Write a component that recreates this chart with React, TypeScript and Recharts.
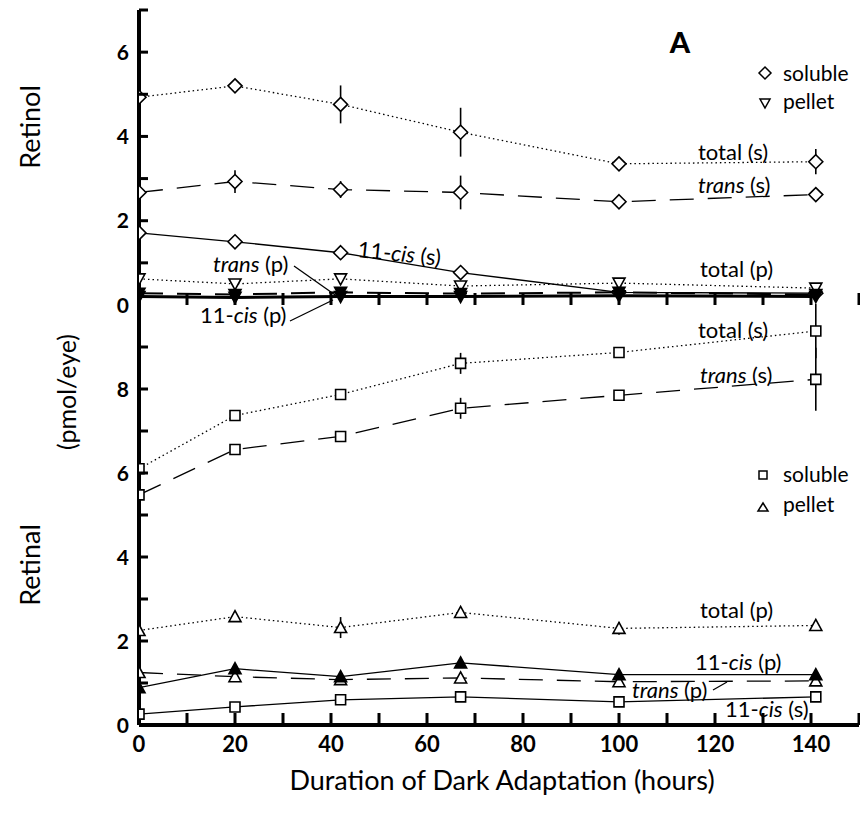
import React from 'react';
import { LineChart, Line, XAxis, YAxis, ErrorBar } from 'recharts';

// Hours of dark adaptation
const hours = [0, 20, 42, 67, 100, 141];

// Retinol (top panel), pmol/eye
const rolTotalS = [4.93, 5.2, 4.76, 4.1, 3.35, 3.4];
const rolTotalSErr = [0, 0.1, 0.45, 0.58, 0.06, 0.3];
const rolTransS = [2.67, 2.93, 2.74, 2.67, 2.45, 2.62];
const rolTransSErr = [0, 0.27, 0.2, 0.4, 0, 0];
const rolCisS = [1.71, 1.5, 1.24, 0.77, 0.3, 0.28];
const rolTotalP = [0.62, 0.5, 0.62, 0.45, 0.52, 0.4];
const rolTransP = [0.28, 0.25, 0.3, 0.27, 0.3, 0.25];
const rolCisP = [0.2, 0.18, 0.2, 0.2, 0.22, 0.2];

// Retinal (bottom panel), pmol/eye
const ralTotalS = [6.1, 7.37, 7.87, 8.61, 8.87, 9.38];
const ralTotalSErr = [0, 0, 0.1, 0.25, 0, 0.65];
const ralTransS = [5.48, 6.56, 6.87, 7.54, 7.85, 8.23];
const ralTransSErr = [0, 0, 0.1, 0.25, 0, 0.75];
const ralTotalP = [2.25, 2.58, 2.32, 2.68, 2.3, 2.37];
const ralTotalPErr = [0, 0, 0.25, 0, 0.15, 0];
const ralCisP = [0.89, 1.34, 1.15, 1.48, 1.2, 1.2];
const ralTransP = [1.25, 1.15, 1.08, 1.12, 1.03, 1.05];
const ralCisS = [0.26, 0.43, 0.6, 0.67, 0.55, 0.67];

const xTicks = [0, 10, 20, 30, 40, 50, 60, 70, 80, 90, 100, 110, 120, 130, 140, 150];
const xLabels = [0, 20, 40, 60, 80, 100, 120, 140];
const xTickMarks = [10, 20, 30, 40, 50, 60, 70, 80, 90, 100, 110, 120, 130, 140, 150];
const topYTicks = [0, 1, 2, 3, 4, 5, 6, 7];
const topYLabels = [0, 2, 4, 6];
const botYTicks = [0, 1, 2, 3, 4, 5, 6, 7, 8, 9, 10];
const botYLabels = [0, 2, 4, 6, 8];

// Layout geometry (pixels)
const W = 860;
const Y_AXIS_W = 139;
const RIGHT_M = 1;
const X_MAX = 150;
const TOP_M = 10;
const MID_Y = 305;
const BOT_Y = 725;
const TOTAL_H = 822;
const X_AXIS_H = 60;
const plotW = W - Y_AXIS_W - RIGHT_M;
const xPix = (v: number) => Y_AXIS_W + (v / X_MAX) * plotW;

const topData = hours.map((h, i) => ({
  h,
  totalS: rolTotalS[i], totalSErr: rolTotalSErr[i],
  transS: rolTransS[i], transSErr: rolTransSErr[i],
  cisS: rolCisS[i],
  totalP: rolTotalP[i],
  transP: rolTransP[i],
  cisP: rolCisP[i],
}));

const botData = hours.map((h, i) => ({
  h,
  totalS: ralTotalS[i], totalSErr: ralTotalSErr[i],
  transS: ralTransS[i], transSErr: ralTransSErr[i],
  totalP: ralTotalP[i], totalPErr: ralTotalPErr[i],
  cisP: ralCisP[i],
  transP: ralTransP[i],
  cisS: ralCisS[i],
}));

const FONT = 'Lato, "Open Sans", sans-serif';

type Shape = 'diamond' | 'down' | 'square' | 'up';

const shapePath = (shape: Shape, cx: number, cy: number) => {
  switch (shape) {
    case 'diamond':
      return `M${cx},${cy - 7} L${cx + 7},${cy} L${cx},${cy + 7} L${cx - 7},${cy} Z`;
    case 'down':
      return `M${cx - 6},${cy - 5} L${cx + 6},${cy - 5} L${cx},${cy + 6} Z`;
    case 'square':
      return `M${cx - 5},${cy - 5} L${cx + 5},${cy - 5} L${cx + 5},${cy + 5} L${cx - 5},${cy + 5} Z`;
    case 'up':
    default:
      return `M${cx},${cy - 6} L${cx + 6},${cy + 5} L${cx - 6},${cy + 5} Z`;
  }
};

const marker = (shape: Shape, filled: boolean) => (props: any) => {
  const { cx, cy, index } = props;
  if (cx == null || cy == null) return <g key={`m-${index}`} />;
  return (
    <path
      key={`m-${shape}-${index}`}
      d={shapePath(shape, cx, cy)}
      fill={filled ? '#000' : '#fff'}
      stroke="#000"
      strokeWidth={1.6}
    />
  );
};

const YTick = (labels: number[], skipLine: number[]) => (props: any) => {
  const { x, y, payload } = props;
  const v = payload.value;
  return (
    <g>
      {!skipLine.includes(v) && (
        <line x1={x} y1={y} x2={x + 9} y2={y} stroke="#000" strokeWidth={3} />
      )}
      {labels.includes(v) && (
        <text x={x - 10} y={y} dy="0.36em" textAnchor="end" fontFamily={FONT} fontWeight={700} fontSize={21} fill="#000">
          {v}
        </text>
      )}
    </g>
  );
};

const XLabel = (showLabels: boolean) => (props: any) => {
  const { x, y, payload } = props;
  const v = payload.value;
  if (!showLabels || !xLabels.includes(v)) return <g />;
  return (
    <text x={x} y={y + 27} textAnchor="middle" fontFamily={FONT} fontWeight={700} fontSize={22} fill="#000">
      {v}
    </text>
  );
};

const DOT = '1.5 3';
const DASH = '24 14';
const LW = 1.3;

const SeriesLabel = ({ x, y, parts, rotate }: { x: number; y: number; parts: [string, boolean][]; rotate?: number }) => (
  <text
    x={x}
    y={y}
    fontFamily={FONT}
    fontSize={22}
    fill="#000"
    transform={rotate ? `rotate(${rotate}, ${x}, ${y})` : undefined}
  >
    {parts.map(([t, it], i) => (
      <tspan key={i} fontStyle={it ? 'italic' : 'normal'}>{t}</tspan>
    ))}
  </text>
);

export default function App() {
  return (
    <div style={{ position: 'absolute', left: 0, top: 0, width: W, height: TOTAL_H, background: '#fff' }}>
      <div style={{ position: 'absolute', left: 0, top: 0 }}>
        <LineChart width={W} height={MID_Y + 25} data={topData} margin={{ top: TOP_M, right: RIGHT_M, bottom: 25, left: 0 }}>
          <XAxis
            dataKey="h"
            type="number"
            domain={[0, X_MAX]}
            ticks={xTicks}
            interval={0}
            height={0}
            tickSize={0}
            tickMargin={0}
            tickLine={false}
            tick={XLabel(false)}
            axisLine={{ stroke: '#000', strokeWidth: 4 }}
            allowDataOverflow
          />
          <YAxis
            type="number"
            domain={[0, 7]}
            ticks={topYTicks}
            interval={0}
            width={Y_AXIS_W}
            tickSize={0}
            tickMargin={0}
            tick={YTick(topYLabels, [0])}
            axisLine={{ stroke: '#000', strokeWidth: 4 }}
            allowDataOverflow
          />
          <Line dataKey="totalS" stroke="#000" strokeWidth={LW} strokeDasharray={DOT} dot={marker('diamond', false)} activeDot={false} isAnimationActive={false}>
            <ErrorBar dataKey="totalSErr" width={0} stroke="#000" strokeWidth={1.6} direction="y" />
          </Line>
          <Line dataKey="transS" stroke="#000" strokeWidth={LW} strokeDasharray={DASH} dot={marker('diamond', false)} activeDot={false} isAnimationActive={false}>
            <ErrorBar dataKey="transSErr" width={0} stroke="#000" strokeWidth={1.6} direction="y" />
          </Line>
          <Line dataKey="cisS" stroke="#000" strokeWidth={LW} dot={marker('diamond', false)} activeDot={false} isAnimationActive={false} />
          <Line dataKey="totalP" stroke="#000" strokeWidth={LW} strokeDasharray={DOT} dot={marker('down', false)} activeDot={false} isAnimationActive={false} />
          <Line dataKey="transP" stroke="#000" strokeWidth={2} strokeDasharray={DASH} dot={marker('down', true)} activeDot={false} isAnimationActive={false} />
          <Line dataKey="cisP" stroke="#000" strokeWidth={3} dot={marker('down', true)} activeDot={false} isAnimationActive={false} />
        </LineChart>
      </div>
      <div style={{ position: 'absolute', left: 0, top: 0 }}>
        <LineChart width={W} height={TOTAL_H} data={botData} margin={{ top: MID_Y, right: RIGHT_M, bottom: TOTAL_H - BOT_Y - X_AXIS_H, left: 0 }}>
          <XAxis
            dataKey="h"
            type="number"
            domain={[0, X_MAX]}
            ticks={xTicks}
            interval={0}
            height={X_AXIS_H}
            tickSize={0}
            tickMargin={0}
            tickLine={false}
            tick={XLabel(true)}
            axisLine={{ stroke: '#000', strokeWidth: 4 }}
            allowDataOverflow
          />
          <YAxis
            type="number"
            domain={[0, 10]}
            ticks={botYTicks}
            interval={0}
            width={Y_AXIS_W}
            tickSize={0}
            tickMargin={0}
            tick={YTick(botYLabels, [0, 10])}
            axisLine={{ stroke: '#000', strokeWidth: 4 }}
            allowDataOverflow
          />
          <Line dataKey="totalS" stroke="#000" strokeWidth={LW} strokeDasharray={DOT} dot={marker('square', false)} activeDot={false} isAnimationActive={false}>
            <ErrorBar dataKey="totalSErr" width={0} stroke="#000" strokeWidth={1.6} direction="y" />
          </Line>
          <Line dataKey="transS" stroke="#000" strokeWidth={LW} strokeDasharray={DASH} dot={marker('square', false)} activeDot={false} isAnimationActive={false}>
            <ErrorBar dataKey="transSErr" width={0} stroke="#000" strokeWidth={1.6} direction="y" />
          </Line>
          <Line dataKey="totalP" stroke="#000" strokeWidth={LW} strokeDasharray={DOT} dot={marker('up', false)} activeDot={false} isAnimationActive={false}>
            <ErrorBar dataKey="totalPErr" width={0} stroke="#000" strokeWidth={1.6} direction="y" />
          </Line>
          <Line dataKey="transP" stroke="#000" strokeWidth={LW} strokeDasharray={DASH} dot={marker('up', false)} activeDot={false} isAnimationActive={false} />
          <Line dataKey="cisP" stroke="#000" strokeWidth={LW} dot={marker('up', true)} activeDot={false} isAnimationActive={false} />
          <Line dataKey="cisS" stroke="#000" strokeWidth={LW} dot={marker('square', false)} activeDot={false} isAnimationActive={false} />
        </LineChart>
      </div>
      <svg width={W} height={TOTAL_H} style={{ position: 'absolute', left: 0, top: 0, pointerEvents: 'none' }}>
        {/* inward x-axis tick marks on the middle and bottom axes */}
        {xTickMarks.map((t) => (
          <g key={`xt-${t}`}>
            <rect x={xPix(t) - 1.5} y={MID_Y - 12} width={3} height={12} fill="#000" />
            <rect x={xPix(t) - 1.5} y={BOT_Y - 12} width={3} height={12} fill="#000" />
          </g>
        ))}
        {/* panel letter */}
        <text x={680} y={53} textAnchor="middle" fontFamily={FONT} fontWeight={900} fontSize={29} fill="#000">A</text>
        {/* top legend */}
        <path d="M765,67 L771,73 L765,79 L759,73 Z" fill="#fff" stroke="#000" strokeWidth={1.5} />
        <text x={783} y={81} fontFamily={FONT} fontSize={21} fill="#000">soluble</text>
        <path d="M760,99 L770,99 L765,108 Z" fill="#fff" stroke="#000" strokeWidth={1.5} />
        <text x={783} y={109} fontFamily={FONT} fontSize={21} fill="#000">pellet</text>
        {/* bottom legend */}
        <rect x={759} y={471} width={8} height={8} fill="#fff" stroke="#000" strokeWidth={1.5} />
        <text x={783} y={482} fontFamily={FONT} fontSize={21} fill="#000">soluble</text>
        <path d="M763,503 L768,511 L758,511 Z" fill="#fff" stroke="#000" strokeWidth={1.5} />
        <text x={783} y={512} fontFamily={FONT} fontSize={21} fill="#000">pellet</text>

        {/* top series labels */}
        <SeriesLabel x={698} y={160} parts={[['total (s)', false]]} />
        <SeriesLabel x={698} y={193} parts={[['trans', true], [' (s)', false]]} />
        <SeriesLabel x={357} y={257} rotate={6} parts={[['11-', false], ['cis', true], [' (s)', false]]} />
        <SeriesLabel x={213} y={272} parts={[['trans', true], [' (p)', false]]} />
        <line x1={294} y1={266} x2={338} y2={297} stroke="#000" strokeWidth={1.3} />
        <SeriesLabel x={700} y={277} parts={[['total (p)', false]]} />
        <SeriesLabel x={200} y={323} parts={[['11-', false], ['cis', true], [' (p)', false]]} />
        <line x1={290} y1={321} x2={333} y2={300} stroke="#000" strokeWidth={1.3} />

        {/* bottom series labels */}
        <SeriesLabel x={698} y={338} parts={[['total (s)', false]]} />
        <SeriesLabel x={700} y={383} parts={[['trans', true], [' (s)', false]]} />
        <SeriesLabel x={700} y={618} parts={[['total (p)', false]]} />
        <SeriesLabel x={695} y={670} parts={[['11-', false], ['cis', true], [' (p)', false]]} />
        <SeriesLabel x={632} y={698} parts={[['trans', true], [' (p)', false]]} />
        <line x1={713} y1={690} x2={727} y2={682} stroke="#000" strokeWidth={1.3} />
        <SeriesLabel x={725} y={717} parts={[['11-', false], ['cis', true], [' (s)', false]]} />

        {/* axis titles */}
        <text transform="rotate(-90, 31, 127)" x={31} y={127} textAnchor="middle" dy="0.35em" fontFamily={FONT} fontSize={27} fill="#000">Retinol</text>
        <text transform="rotate(-90, 67, 392)" x={67} y={392} textAnchor="middle" dy="0.35em" fontFamily={FONT} fontSize={25} fill="#000">(pmol/eye)</text>
        <text transform="rotate(-90, 31, 565)" x={31} y={565} textAnchor="middle" dy="0.35em" fontFamily={FONT} fontSize={27} fill="#000">Retinal</text>
        <text x={502} y={790} textAnchor="middle" fontFamily={FONT} fontSize={27} fill="#000">Duration of Dark Adaptation (hours)</text>
      </svg>
    </div>
  );
}
